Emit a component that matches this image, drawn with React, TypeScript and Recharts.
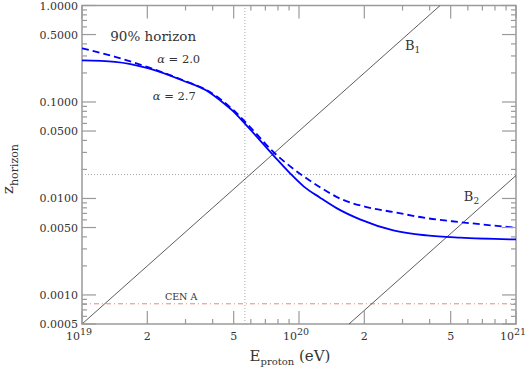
import React from 'react';
import { LineChart, Line, XAxis, YAxis, ReferenceLine, ReferenceDot, ReferenceArea } from 'recharts';

// ---- data ----
const xMajorTicks = [1e19, 2e19, 5e19, 1e20, 2e20, 5e20, 1e21];
const xMinorTicks = [3e19, 4e19, 6e19, 7e19, 8e19, 9e19, 3e20, 4e20, 6e20, 7e20, 8e20, 9e20];
const yMajorTicks = [0.0005, 0.001, 0.005, 0.01, 0.05, 0.1, 0.5, 1];
const yMinorTicks = [0.0006, 0.0007, 0.0008, 0.0009, 0.002, 0.003, 0.004, 0.006, 0.007, 0.008, 0.009,
  0.02, 0.03, 0.04, 0.06, 0.07, 0.08, 0.09, 0.2, 0.3, 0.4, 0.6, 0.7, 0.8, 0.9];

const energyAlpha27 = [1.0e19, 1.42e19, 2.03e19, 2.89e19, 3.84e19, 4.33e19, 4.91e19, 5.63e19, 7.62e19, 9.1e19,
  1.05e20, 1.25e20, 1.49e20, 1.91e20, 2.72e20, 3.88e20, 5.52e20, 1.0e21];
const zAlpha27 = [0.270, 0.261, 0.223, 0.168, 0.127, 0.104, 0.0822, 0.0598, 0.0280, 0.0182,
  0.01336, 0.0102, 0.00794, 0.00607, 0.00467, 0.00414, 0.00392, 0.00376];

const energyAlpha20 = [1.0e19, 1.42e19, 2.03e19, 2.89e19, 3.84e19, 4.91e19, 6.15e19, 7.62e19, 9.42e19,
  1.25e20, 1.55e20, 2.05e20, 2.72e20, 3.88e20, 5.52e20, 1.0e21];
const zAlpha20 = [0.360, 0.294, 0.228, 0.170, 0.129, 0.085, 0.0509, 0.0303, 0.0203,
  0.0131, 0.00995, 0.00814, 0.00723, 0.00625, 0.00569, 0.00498];

const energyB1 = [1e19, 4.47e20];
const zB1 = [0.0005, 1.0];
const energyB2 = [1.7e20, 1e21];
const zB2 = [0.0005, 0.0173];

const cutoffEnergy = 5.63e19;
const cutoffZ = 0.0177;
const cenAZ = 0.00081;

const X_DOMAIN = [1e19, 1e21];
const Y_DOMAIN = [0.0005, 1];

const zip = (xs: number[], ys: number[]) => xs.map((E, i) => ({ E, z: ys[i] }));
const alpha27Data = zip(energyAlpha27, zAlpha27);
const alpha20Data = zip(energyAlpha20, zAlpha20);
const b1Data = zip(energyB1, zB1);
const b2Data = zip(energyB2, zB2);

// ---- layout / style ----
const W = 530;
const H = 370;
const MARGIN = { top: 5.5, right: 14, bottom: 0, left: 0 };
const Y_AXIS_W = 82;
const X_AXIS_H = 46;
const PLOT = { left: Y_AXIS_W, right: W - MARGIN.right, top: MARGIN.top, bottom: H - X_AXIS_H };
const AXIS = '#9a9a9a';
const TEXT = '#333';
const FONT = 'DejaVu Serif';
const BLUE = '#0000ff';

const XTick = (props: any) => {
  const { x, payload } = props;
  const v = payload.value;
  const major = xMajorTicks.includes(v);
  const len = major ? 13 : 5;
  let label: any = null;
  if (major) {
    const exp = Math.floor(Math.log10(v) + 1e-9);
    const mant = Math.round(v / Math.pow(10, exp));
    label = mant === 1 ? (
      <text x={x - 3} y={340} textAnchor="middle" fontFamily={FONT} fontSize={11} fill={TEXT}>
        10<tspan dy={-5} fontSize={9.5}>{exp}</tspan>
      </text>
    ) : (
      <text x={x} y={340} textAnchor="middle" fontFamily={FONT} fontSize={11} fill={TEXT}>{mant}</text>
    );
  }
  return (
    <g>
      <line x1={x} x2={x} y1={PLOT.bottom} y2={PLOT.bottom - len} stroke={AXIS} strokeWidth={1.2} />
      <line x1={x} x2={x} y1={PLOT.top} y2={PLOT.top + len} stroke={AXIS} strokeWidth={1.2} />
      {label}
    </g>
  );
};

const YTick = (props: any) => {
  const { y, payload } = props;
  const v = payload.value;
  const major = yMajorTicks.includes(v);
  const len = major ? 14 : 5;
  return (
    <g>
      <line x1={PLOT.left} x2={PLOT.left + len} y1={y} y2={y} stroke={AXIS} strokeWidth={1.2} />
      <line x1={PLOT.right} x2={PLOT.right - len} y1={y} y2={y} stroke={AXIS} strokeWidth={1.2} />
      {major && (
        <text x={78} y={y + 4} textAnchor="end" fontFamily={FONT} fontSize={11} fill={TEXT}>{v.toFixed(4)}</text>
      )}
    </g>
  );
};

const XTitle = () => (
  <text x={290} y={361} textAnchor="middle" fontFamily={FONT} fontSize={15} fill={TEXT}>
    E<tspan dy={4} fontSize={10}>proton</tspan><tspan dy={-4}>{'\u00a0(eV)'}</tspan>
  </text>
);

const YTitle = () => (
  <g transform="translate(13 169) rotate(-90)">
    <text x={0} y={0} textAnchor="middle" fontFamily={FONT} fontSize={15} fill={TEXT}>
      z<tspan dy={5} fontSize={11}>horizon</tspan>
    </text>
  </g>
);

const annotations = [
  { E: 1.35e19, z: 0.428, pre: '', text: '90% horizon', size: 13.5 },
  { E: 2.22e19, z: 0.253, pre: '\u03b1', text: '\u00a0=\u00a02.0', size: 11.5 },
  { E: 2.12e19, z: 0.1044, pre: '\u03b1', text: '\u00a0=\u00a02.7', size: 11.5 },
  { E: 2.41e19, z: 0.000885, pre: '', text: 'CEN A', size: 9.5 },
];

const subLabels = [
  { E: 3.08e20, z: 0.345, main: 'B', sub: '1' },
  { E: 5.75e20, z: 0.00933, main: 'B', sub: '2' },
];

export default function App() {
  return (
    <div style={{ position: 'absolute', left: 0, top: 0, width: W, height: H, background: '#fff' }}>
      <LineChart width={W} height={H} margin={MARGIN}>
        <XAxis
          type="number"
          dataKey="E"
          scale="log"
          domain={X_DOMAIN}
          allowDataOverflow
          ticks={[...xMajorTicks, ...xMinorTicks]}
          interval={0}
          tick={<XTick />}
          tickLine={false}
          axisLine={false}
          tickSize={0}
          height={X_AXIS_H}
          label={{ content: () => <XTitle /> }}
        />
        <YAxis
          type="number"
          dataKey="z"
          scale="log"
          domain={Y_DOMAIN}
          allowDataOverflow
          ticks={[...yMajorTicks, ...yMinorTicks]}
          interval={0}
          tick={<YTick />}
          tickLine={false}
          axisLine={false}
          tickSize={0}
          width={Y_AXIS_W}
          label={{ content: () => <YTitle /> }}
        />
        <ReferenceArea x1={X_DOMAIN[0]} x2={X_DOMAIN[1]} y1={Y_DOMAIN[0]} y2={Y_DOMAIN[1]} fill="none" stroke={AXIS} strokeWidth={1.5} fillOpacity={0} />
        <ReferenceLine x={cutoffEnergy} stroke="#aaa" strokeDasharray="1 2" strokeWidth={1} />
        <ReferenceLine y={cutoffZ} stroke="#aaa" strokeDasharray="1 2" strokeWidth={1} />
        <ReferenceLine y={cenAZ} stroke="#e06666" strokeDasharray="5 3 1 3" strokeWidth={0.8} />
        <Line data={b1Data} dataKey="z" type="linear" stroke="#333" strokeWidth={0.8} dot={false} isAnimationActive={false} />
        <Line data={b2Data} dataKey="z" type="linear" stroke="#333" strokeWidth={0.8} dot={false} isAnimationActive={false} />
        <Line data={alpha27Data} dataKey="z" type="monotone" stroke={BLUE} strokeWidth={1.8} dot={false} isAnimationActive={false} />
        <Line data={alpha20Data} dataKey="z" type="monotone" stroke={BLUE} strokeWidth={1.8} strokeDasharray="7 4" dot={false} isAnimationActive={false} />
        {annotations.map((a, i) => (
          <ReferenceDot
            key={'a' + i}
            x={a.E}
            y={a.z}
            r={0}
            shape={(p: any) => (
              <text x={p.cx} y={p.cy} fontFamily={FONT} fontSize={a.size} fill={TEXT}>
                {a.pre ? <tspan fontStyle="italic">{a.pre}</tspan> : null}{a.text}
              </text>
            )}
          />
        ))}
        {subLabels.map((a, i) => (
          <ReferenceDot
            key={'b' + i}
            x={a.E}
            y={a.z}
            r={0}
            shape={(p: any) => (
              <text x={p.cx} y={p.cy} fontFamily={FONT} fontSize={13} fill={TEXT}>
                {a.main}<tspan dy={3} fontSize={9}>{a.sub}</tspan>
              </text>
            )}
          />
        ))}
      </LineChart>
    </div>
  );
}
